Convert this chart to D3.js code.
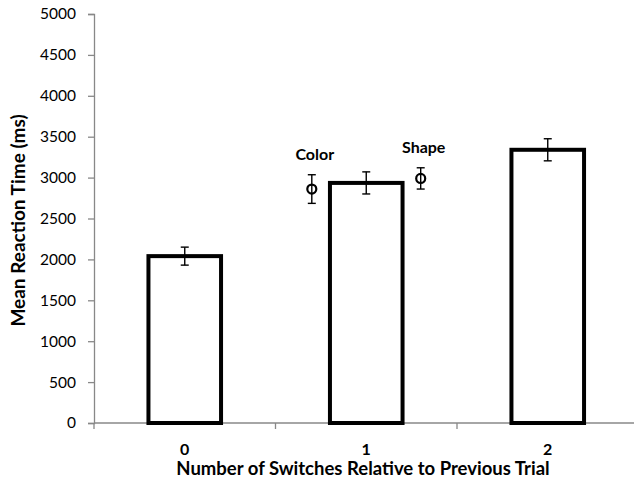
<!DOCTYPE html>
<html>
<head>
<meta charset="utf-8">
<script src="https://cdn.jsdelivr.net/npm/d3@7"></script>
<style>
  body { margin: 0; background: #fff; }
  text { font-family: Lato, "Open Sans", sans-serif; }
</style>
</head>
<body>
<div id="chart"></div>
<script>
// --- DATA ---
var categories = ["0", "1", "2"];
var barMeans = [2040, 2935, 3340];
var barErrors = [110, 135, 135];

var pointLabels = ["Color", "Shape"];
var pointCategory = ["1", "1"];
var pointOffset = [-0.3, 0.3];      // fraction of band, from band centre
var pointMeans = [2860, 2990];
var pointErrors = [175, 130];

var yTicks = [0, 500, 1000, 1500, 2000, 2500, 3000, 3500, 4000, 4500, 5000];

// --- SETUP ---
var width = 634, height = 480;
var margin = { top: 14, right: 0, bottom: 57, left: 94 };

var svg = d3.select("#chart").append("svg")
  .attr("width", width)
  .attr("height", height);

var x = d3.scaleBand()
  .domain(categories)
  .range([margin.left, margin.left + 3 * 181.5])
  .paddingInner(0)
  .paddingOuter(0);

var y = d3.scaleLinear()
  .domain([0, 5000])
  .range([height - margin.bottom, margin.top]);

var barW = x.bandwidth() * 0.4;
var axisColor = "#888";

// --- AXES ---
var yAxis = svg.append("g")
  .attr("transform", "translate(" + margin.left + ",0)")
  .call(d3.axisLeft(y).tickValues(yTicks).tickFormat(d3.format("d")).tickSize(6).tickPadding(12));
yAxis.select(".domain").attr("stroke", axisColor).attr("stroke-width", 1.3);
yAxis.selectAll(".tick line").attr("stroke", axisColor).attr("stroke-width", 1.3);
yAxis.selectAll(".tick text")
  .attr("fill", "#000")
  .style("font-size", "15.5px")
  .style("font-family", "Lato, sans-serif");

// x axis: line with ticks at band boundaries
var xBase = y(0);
svg.append("line")
  .attr("x1", margin.left).attr("x2", width)
  .attr("y1", xBase).attr("y2", xBase)
  .attr("stroke", axisColor).attr("stroke-width", 1.3);

var boundaries = categories.map(function(c) { return x(c); });
svg.selectAll(".xtick").data(boundaries).enter().append("line")
  .attr("class", "xtick")
  .attr("x1", function(d) { return d; }).attr("x2", function(d) { return d; })
  .attr("y1", xBase).attr("y2", xBase + 6)
  .attr("stroke", axisColor).attr("stroke-width", 1.3);

svg.selectAll(".xlabel").data(categories).enter().append("text")
  .attr("class", "xlabel")
  .attr("x", function(d) { return x(d) + x.bandwidth() / 2; })
  .attr("y", 455)
  .attr("text-anchor", "middle")
  .style("font-size", "16px")
  .style("font-weight", "bold")
  .text(function(d) { return d; });

// --- BARS ---
svg.selectAll(".bar").data(barMeans).enter().append("rect")
  .attr("class", "bar")
  .attr("x", function(d, i) { return x(categories[i]) + x.bandwidth() / 2 - barW / 2; })
  .attr("y", function(d) { return y(d); })
  .attr("width", barW)
  .attr("height", function(d) { return y(0) - y(d); })
  .attr("fill", "#fff")
  .attr("stroke", "#000")
  .attr("stroke-width", 4);

// error bars helper
function errorBar(cx, mean, err) {
  var g = svg.append("g").attr("stroke", "#000").attr("stroke-width", 1.4);
  g.append("line").attr("x1", cx).attr("x2", cx).attr("y1", y(mean - err)).attr("y2", y(mean + err));
  g.append("line").attr("x1", cx - 4).attr("x2", cx + 4).attr("y1", y(mean - err)).attr("y2", y(mean - err));
  g.append("line").attr("x1", cx - 4).attr("x2", cx + 4).attr("y1", y(mean + err)).attr("y2", y(mean + err));
}

barMeans.forEach(function(m, i) {
  errorBar(x(categories[i]) + x.bandwidth() / 2, m, barErrors[i]);
});

// --- POINTS ---
pointMeans.forEach(function(m, i) {
  var cx = x(pointCategory[i]) + x.bandwidth() / 2 + pointOffset[i] * x.bandwidth();
  errorBar(cx, m, pointErrors[i]);
  svg.append("circle")
    .attr("cx", cx).attr("cy", y(m)).attr("r", 4.5)
    .attr("fill", "none").attr("stroke", "#000").attr("stroke-width", 2.2);
  svg.append("text")
    .attr("x", cx + 3)
    .attr("y", y(m + pointErrors[i]) - 15)
    .attr("text-anchor", "middle")
    .style("font-size", "16px")
    .style("font-weight", "bold")
    .text(pointLabels[i]);
});

// --- TITLES ---
svg.append("text")
  .attr("transform", "translate(25," + ((margin.top + y(0)) / 2 + 2) + ") rotate(-90)")
  .attr("text-anchor", "middle")
  .style("font-size", "19px")
  .style("font-weight", "bold")
  .text("Mean Reaction Time (ms)");

svg.append("text")
  .attr("x", 363)
  .attr("y", 475)
  .attr("text-anchor", "middle")
  .style("font-size", "18.5px")
  .style("font-weight", "bold")
  .text("Number of Switches Relative to Previous Trial");
</script>
</body>
</html>
